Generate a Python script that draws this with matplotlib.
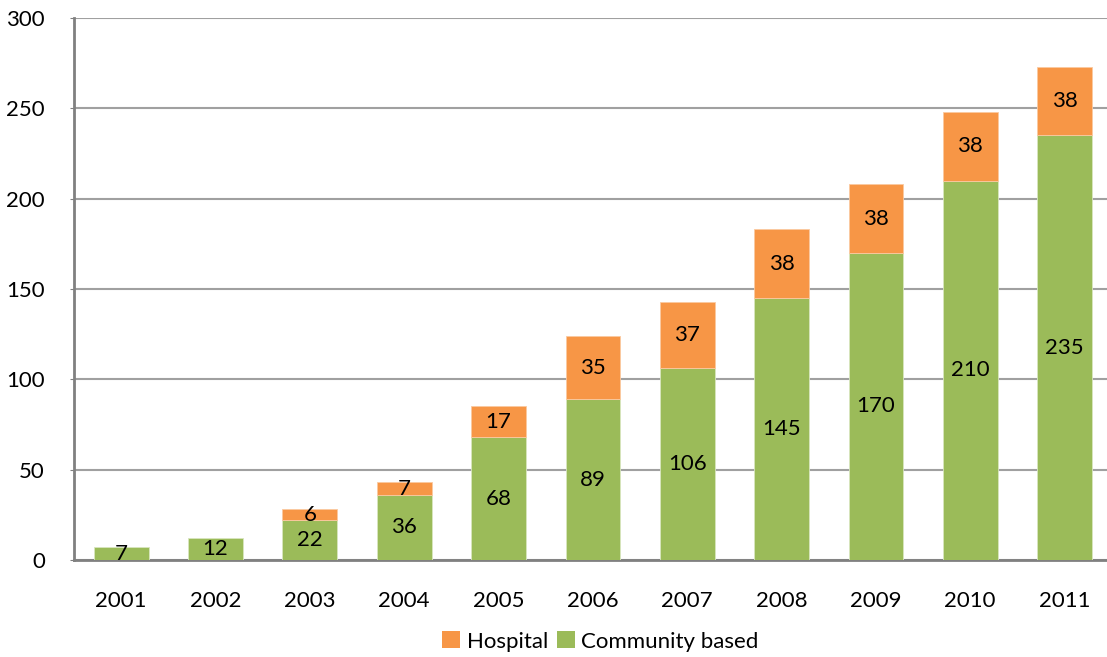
import matplotlib
matplotlib.use("Agg")
import matplotlib.pyplot as plt
from matplotlib.patches import Patch
import numpy as np

years = ["2001", "2002", "2003", "2004", "2005", "2006", "2007", "2008", "2009", "2010", "2011"]
community = [7, 12, 22, 36, 68, 89, 106, 145, 170, 210, 235]
hospital = [0, 0, 6, 7, 17, 35, 37, 38, 38, 38, 38]

green = "#9BBB59"
orange = "#F79646"

plt.rcParams['font.family'] = ['Lato', 'DejaVu Sans']

fig = plt.figure(figsize=(11.07, 6.57), dpi=100)
ax = fig.add_axes([74 / 1107, 1 - 560 / 657, 1 - 74 / 1107, (560 - 18) / 657])

x = np.arange(len(years))
b1 = ax.bar(x, community, width=0.58, color=green, edgecolor="#d8e6bf", linewidth=0.6, zorder=3)
b2 = ax.bar(x, hospital, width=0.58, bottom=community, color=orange, edgecolor="#fbc9a0",
            linewidth=0.6, zorder=3)
# hide empty hospital segments
for patch, h in zip(b2.patches, hospital):
    if h == 0:
        patch.set_visible(False)

# value labels inside the segments
for i in range(len(years)):
    ax.text(x[i], community[i] / 2, str(community[i]), ha="center", va="center", fontsize=16, zorder=4)
    if hospital[i] > 0:
        ax.text(x[i], community[i] + hospital[i] / 2, str(hospital[i]), ha="center", va="center",
                fontsize=16, zorder=4)

ax.set_ylim(0, 300)
ax.set_xlim(-0.5, 10.45)
ax.set_yticks(range(0, 301, 50))
ax.set_xticks(x)
ax.set_xticklabels(years)
ax.yaxis.grid(True, color="#a0a0a0", linewidth=1.5, zorder=0)
ax.set_axisbelow(True)

for s in ["top", "right"]:
    ax.spines[s].set_visible(False)
for s in ["left", "bottom"]:
    ax.spines[s].set_color("#808080")
    ax.spines[s].set_linewidth(2)

ax.tick_params(axis="y", length=3, color="#808080", labelsize=16, pad=18)
ax.tick_params(axis="x", length=0, labelsize=16, pad=22)

handles = [Patch(facecolor=orange, label="Hospital"), Patch(facecolor=green, label="Community based")]
ax.legend(handles=handles, loc="upper center", bbox_to_anchor=(0.5 + 10 / 1033, -0.095), ncol=2,
          frameon=False, fontsize=16, handlelength=0.8, handleheight=0.8, handletextpad=0.3,
          columnspacing=0.4)

fig.savefig("out.png", dpi=100)
